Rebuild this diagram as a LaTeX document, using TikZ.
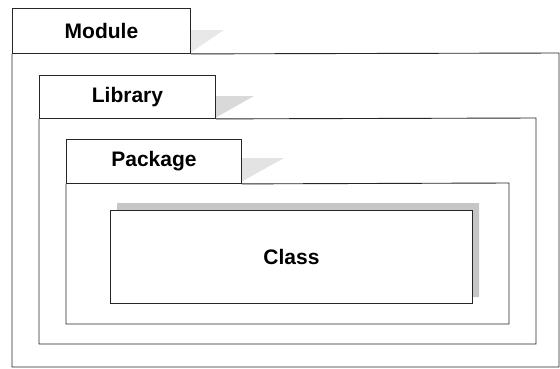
\documentclass[tikz,border=0pt]{standalone}
\usepackage{fontspec}
\newfontfamily\labelfont{Liberation Sans}
\begin{document}
\begin{tikzpicture}[x=1pt,y=-1pt,
  line/.style={draw=black!85, line width=0.9pt},
  tab/.style={line, rectangle, anchor=north west, inner sep=0pt,
    font=\labelfont\bfseries\fontsize{21}{23}\selectfont},
  wedge/.style={fill=gray!30, draw=none},
  shade/.style={fill=gray!45, draw=none}]
\useasboundingbox (0,0) rectangle (560,368);
% wedges (shadows to the right of tabs)
\fill[wedge, fill=gray!18] (190,30) -- (224,30) -- (190,53) -- cycle;
\fill[wedge] (215,96) -- (254,96) -- (215,118) -- cycle;
\fill[wedge, fill=gray!22] (241,158) -- (284,158) -- (241,182) -- cycle;
% class shadow
\fill[shade] (117,203) -- (479,203) -- (479,297) -- (472,297) -- (472,210) -- (117,210) -- cycle;
% Module
\node[tab, minimum width=178pt, minimum height=45pt] (modtab) at (12,8) {\raisebox{-1.5pt}{Module}};
\coordinate (modne) at (559,53);
\coordinate (modse) at (559,367);
\coordinate (modsw) at (12,367);
\draw[line] (modtab.south east) -- (modne) -- (modse) -- (modsw) -- (modtab.south west);
% Library
\node[tab, minimum width=176pt, minimum height=43pt] (libtab) at (39,75) {\raisebox{-1.5pt}{Library}};
\coordinate (libne) at (536,118);
\coordinate (libse) at (536,344);
\coordinate (libsw) at (39,344);
\draw[line] (libtab.south east) -- (libne) -- (libse) -- (libsw) -- (libtab.south west);
% Package
\node[tab, minimum width=175pt, minimum height=44pt] (pkgtab) at (66,139) {\raisebox{-1pt}{Package}};
\coordinate (pkgne) at (509,183);
\coordinate (pkgse) at (509,324);
\coordinate (pkgsw) at (66,324);
\draw[line] (pkgtab.south east) -- (pkgne) -- (pkgse) -- (pkgsw) -- (pkgtab.south west);
% Class
\node[tab, fill=white, minimum width=362pt, minimum height=93pt] (class) at (110,210) {Class};
\end{tikzpicture}
\end{document}
